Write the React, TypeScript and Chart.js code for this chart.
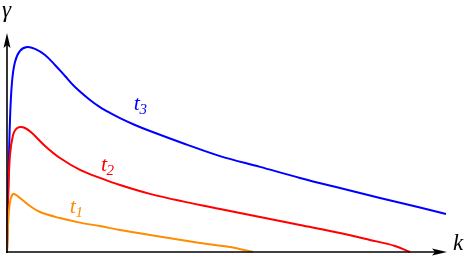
import React, { useEffect, useRef } from "react";
import { Chart, registerables } from "chart.js";

Chart.register(...registerables);

// k values (x) and gamma values (y)
const blueK = [0, 0.023, 0.068, 0.114, 0.182, 0.296, 0.456, 0.638, 0.866, 1.093, 1.321, 1.549, 1.891, 2.118, 2.346, 2.574, 2.916, 3.257, 4.055, 4.852, 5.763, 6.674, 7.585, 8.497, 9.408, 10.0];
const blueG = [0, 0.241, 0.611, 0.787, 0.88, 0.931, 0.949, 0.94, 0.912, 0.866, 0.815, 0.764, 0.704, 0.671, 0.644, 0.62, 0.588, 0.56, 0.5, 0.444, 0.394, 0.343, 0.296, 0.25, 0.206, 0.176];

const redK = [0, 0.023, 0.068, 0.137, 0.205, 0.296, 0.41, 0.569, 0.866, 1.207, 1.663, 2.118, 2.574, 3.257, 4.055, 4.852, 5.763, 6.674, 7.585, 8.269, 8.838, 9.18];
const redG = [0, 0.241, 0.449, 0.542, 0.569, 0.579, 0.574, 0.551, 0.491, 0.435, 0.38, 0.343, 0.31, 0.269, 0.232, 0.199, 0.162, 0.125, 0.088, 0.056, 0.028, 0];

const orangeK = [0, 0.023, 0.068, 0.137, 0.205, 0.296, 0.524, 0.752, 1.207, 1.663, 2.118, 2.574, 3.257, 4.396, 5.08, 5.604];
const orangeG = [0, 0.125, 0.231, 0.269, 0.264, 0.25, 0.213, 0.185, 0.157, 0.136, 0.12, 0.102, 0.079, 0.042, 0.023, 0];

const seriesNames = ["t", "t", "t"];
const seriesSubs = ["1", "2", "3"];
const seriesColors = ["#ff8c00", "#ff0000", "#0000ff"];
// label anchor positions (k, gamma)
const labelK = [1.43, 2.14, 2.89];
const labelG = [0.18, 0.375, 0.657];

const K_MAX = 10;
const G_MAX = 1;

const SERIF = "'Liberation Serif', serif";

const toPts = (ks: number[], gs: number[]) => ks.map((k, i) => ({ x: k, y: gs[i] }));

const overlay = {
  id: "overlay",
  afterDatasetsDraw(chart: any) {
    const { ctx, chartArea, scales } = chart;
    const xs = scales.x;
    const ys = scales.y;
    const x0 = xs.getPixelForValue(0);
    const y0 = ys.getPixelForValue(0);
    ctx.save();
    ctx.strokeStyle = "#000";
    ctx.fillStyle = "#000";
    ctx.lineWidth = 1.6;
    // y axis
    const yTip = chartArea.top - 3;
    ctx.beginPath();
    ctx.moveTo(x0, y0 + 1);
    ctx.lineTo(x0, yTip + 10);
    ctx.stroke();
    ctx.beginPath();
    ctx.moveTo(x0, yTip);
    ctx.lineTo(x0 - 3.5, yTip + 15);
    ctx.lineTo(x0, yTip + 12);
    ctx.lineTo(x0 + 3.5, yTip + 15);
    ctx.closePath();
    ctx.fill();
    // x axis
    const xTip = chartArea.right + 1;
    ctx.beginPath();
    ctx.moveTo(x0 - 1, y0);
    ctx.lineTo(xTip - 10, y0);
    ctx.stroke();
    ctx.beginPath();
    ctx.moveTo(xTip, y0);
    ctx.lineTo(xTip - 15, y0 - 3.5);
    ctx.lineTo(xTip - 12, y0);
    ctx.lineTo(xTip - 15, y0 + 3.5);
    ctx.closePath();
    ctx.fill();

    // axis labels
    ctx.font = "italic 23px " + SERIF;
    ctx.textBaseline = "alphabetic";
    ctx.textAlign = "left";
    ctx.fillText("γ", x0 - 5, chartArea.top - 19);
    ctx.fillText("k", xTip + 6, y0 - 2);

    // series labels
    for (let i = 0; i < seriesNames.length; i++) {
      const px = xs.getPixelForValue(labelK[i]);
      const py = ys.getPixelForValue(labelG[i]);
      ctx.fillStyle = seriesColors[i];
      ctx.font = "italic 22px " + SERIF;
      ctx.fillText(seriesNames[i], px, py);
      const w = ctx.measureText(seriesNames[i]).width;
      ctx.font = "italic 15px " + SERIF;
      ctx.fillText(seriesSubs[i], px + w - 0.5, py + 4);
    }
    ctx.restore();
  },
};

export default function App() {
  const ref = useRef<HTMLCanvasElement | null>(null);
  useEffect(() => {
    if (!ref.current) return;
    const mk = (ks: number[], gs: number[], color: string) => ({
      data: toPts(ks, gs),
      borderColor: color,
      borderWidth: 2,
      pointRadius: 0,
      fill: false,
      tension: 0.35,
      clip: false as any,
    });
    const chart = new Chart(ref.current, {
      type: "line",
      data: {
        datasets: [
          mk(orangeK, orangeG, seriesColors[0]),
          mk(redK, redG, seriesColors[1]),
          mk(blueK, blueG, seriesColors[2]),
        ],
      },
      options: {
        animation: false,
        responsive: false,
        layout: { padding: { left: 7, right: 23, top: 36, bottom: 16 } },
        plugins: { legend: { display: false }, tooltip: { enabled: false } },
        scales: {
          x: { type: "linear", min: 0, max: K_MAX, display: false },
          y: { type: "linear", min: 0, max: G_MAX, display: false },
        },
      },
      plugins: [overlay],
    });
    return () => {
      chart.destroy();
    };
  }, []);
  return (
    <div style={{ position: "fixed", left: 0, top: 0, width: 469, height: 268, background: "#fff" }}>
      <canvas ref={ref} width={469} height={268} />
    </div>
  );
}
